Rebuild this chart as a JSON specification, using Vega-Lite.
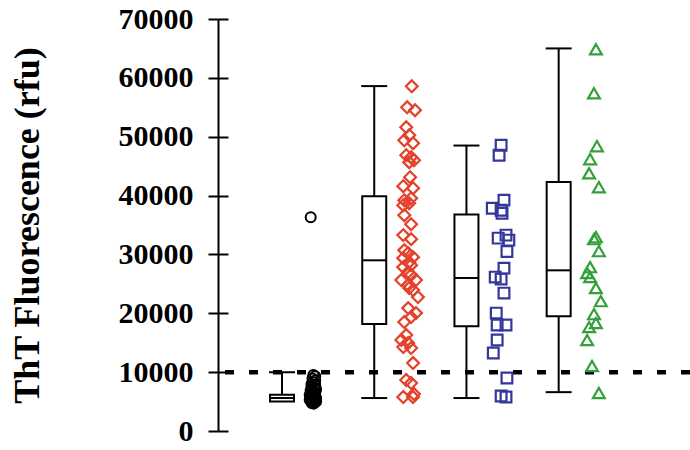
{
  "$schema": "https://vega.github.io/schema/vega-lite/v6.json",
  "width": 472,
  "height": 412,
  "autosize": {"type": "none"},
  "padding": {"left": 218, "top": 19, "right": 0, "bottom": 19},
  "background": "white",
  "config": {"view": {"stroke": null}},
  "datasets": {
    "boxes": [
      {"x": 1, "lower": 5000, "q1": 5000, "median": 5600, "q3": 6150, "upper": 10000},
      {"x": 2, "lower": 5600, "q1": 18200, "median": 29000, "q3": 39900, "upper": 58600},
      {"x": 3, "lower": 5600, "q1": 17800, "median": 26000, "q3": 36800, "upper": 48500},
      {"x": 4, "lower": 6600, "q1": 19500, "median": 27300, "q3": 42300, "upper": 65000}
    ],
    "points": [
      {"grp": "A", "x": 1.311, "fluor": 36330},
      {"grp": "A", "x": 1.34, "fluor": 9500},
      {"grp": "A", "x": 1.36, "fluor": 9300},
      {"grp": "A", "x": 1.33, "fluor": 8900},
      {"grp": "A", "x": 1.36, "fluor": 8600},
      {"grp": "A", "x": 1.34, "fluor": 8300},
      {"grp": "A", "x": 1.32, "fluor": 8000},
      {"grp": "A", "x": 1.36, "fluor": 7800},
      {"grp": "A", "x": 1.32, "fluor": 7500},
      {"grp": "A", "x": 1.35, "fluor": 7300},
      {"grp": "A", "x": 1.37, "fluor": 7100},
      {"grp": "A", "x": 1.31, "fluor": 6900},
      {"grp": "A", "x": 1.34, "fluor": 6700},
      {"grp": "A", "x": 1.36, "fluor": 6500},
      {"grp": "A", "x": 1.32, "fluor": 6300},
      {"grp": "A", "x": 1.30, "fluor": 6100},
      {"grp": "A", "x": 1.36, "fluor": 6000},
      {"grp": "A", "x": 1.34, "fluor": 5800},
      {"grp": "A", "x": 1.31, "fluor": 5700},
      {"grp": "A", "x": 1.37, "fluor": 5600},
      {"grp": "A", "x": 1.33, "fluor": 5500},
      {"grp": "A", "x": 1.35, "fluor": 5400},
      {"grp": "A", "x": 1.30, "fluor": 5300},
      {"grp": "A", "x": 1.34, "fluor": 5200},
      {"grp": "A", "x": 1.31, "fluor": 5100},
      {"grp": "A", "x": 1.37, "fluor": 5000},
      {"grp": "A", "x": 1.32, "fluor": 4950},
      {"grp": "A", "x": 1.355, "fluor": 4900},
      {"grp": "A", "x": 1.325, "fluor": 4700},
      {"grp": "A", "x": 1.345, "fluor": 4650},
      {"grp": "B", "x": 2.407, "fluor": 58570},
      {"grp": "B", "x": 2.357, "fluor": 55000},
      {"grp": "B", "x": 2.442, "fluor": 54500},
      {"grp": "B", "x": 2.347, "fluor": 51600},
      {"grp": "B", "x": 2.379, "fluor": 50250},
      {"grp": "B", "x": 2.326, "fluor": 49400},
      {"grp": "B", "x": 2.421, "fluor": 48900},
      {"grp": "B", "x": 2.347, "fluor": 46860},
      {"grp": "B", "x": 2.4, "fluor": 46520},
      {"grp": "B", "x": 2.431, "fluor": 46000},
      {"grp": "B", "x": 2.379, "fluor": 45670},
      {"grp": "B", "x": 2.389, "fluor": 43120},
      {"grp": "B", "x": 2.315, "fluor": 41600},
      {"grp": "B", "x": 2.421, "fluor": 41260},
      {"grp": "B", "x": 2.4, "fluor": 39560},
      {"grp": "B", "x": 2.326, "fluor": 39220},
      {"grp": "B", "x": 2.379, "fluor": 38710},
      {"grp": "B", "x": 2.315, "fluor": 38370},
      {"grp": "B", "x": 2.326, "fluor": 36670},
      {"grp": "B", "x": 2.4, "fluor": 35140},
      {"grp": "B", "x": 2.315, "fluor": 33280},
      {"grp": "B", "x": 2.4, "fluor": 32600},
      {"grp": "B", "x": 2.326, "fluor": 30730},
      {"grp": "B", "x": 2.368, "fluor": 30220},
      {"grp": "B", "x": 2.421, "fluor": 29540},
      {"grp": "B", "x": 2.315, "fluor": 29370},
      {"grp": "B", "x": 2.379, "fluor": 28690},
      {"grp": "B", "x": 2.4, "fluor": 28180},
      {"grp": "B", "x": 2.315, "fluor": 27840},
      {"grp": "B", "x": 2.368, "fluor": 27000},
      {"grp": "B", "x": 2.4, "fluor": 26490},
      {"grp": "B", "x": 2.294, "fluor": 25640},
      {"grp": "B", "x": 2.453, "fluor": 25640},
      {"grp": "B", "x": 2.368, "fluor": 24790},
      {"grp": "B", "x": 2.379, "fluor": 24280},
      {"grp": "B", "x": 2.421, "fluor": 23940},
      {"grp": "B", "x": 2.474, "fluor": 22750},
      {"grp": "B", "x": 2.368, "fluor": 20880},
      {"grp": "B", "x": 2.453, "fluor": 20030},
      {"grp": "B", "x": 2.4, "fluor": 19350},
      {"grp": "B", "x": 2.326, "fluor": 18510},
      {"grp": "B", "x": 2.347, "fluor": 16300},
      {"grp": "B", "x": 2.294, "fluor": 15450},
      {"grp": "B", "x": 2.368, "fluor": 14940},
      {"grp": "B", "x": 2.315, "fluor": 14260},
      {"grp": "B", "x": 2.4, "fluor": 14090},
      {"grp": "B", "x": 2.421, "fluor": 11540},
      {"grp": "B", "x": 2.347, "fluor": 8660},
      {"grp": "B", "x": 2.4, "fluor": 8150},
      {"grp": "B", "x": 2.431, "fluor": 6280},
      {"grp": "B", "x": 2.315, "fluor": 5770},
      {"grp": "B", "x": 2.421, "fluor": 5770},
      {"grp": "C", "x": 3.376, "fluor": 48560},
      {"grp": "C", "x": 3.354, "fluor": 46860},
      {"grp": "C", "x": 3.407, "fluor": 39220},
      {"grp": "C", "x": 3.28, "fluor": 37860},
      {"grp": "C", "x": 3.376, "fluor": 37520},
      {"grp": "C", "x": 3.386, "fluor": 37010},
      {"grp": "C", "x": 3.429, "fluor": 33280},
      {"grp": "C", "x": 3.344, "fluor": 32770},
      {"grp": "C", "x": 3.46, "fluor": 32430},
      {"grp": "C", "x": 3.439, "fluor": 30500},
      {"grp": "C", "x": 3.407, "fluor": 27670},
      {"grp": "C", "x": 3.312, "fluor": 26150},
      {"grp": "C", "x": 3.376, "fluor": 25810},
      {"grp": "C", "x": 3.407, "fluor": 23430},
      {"grp": "C", "x": 3.323, "fluor": 20030},
      {"grp": "C", "x": 3.333, "fluor": 18000},
      {"grp": "C", "x": 3.429, "fluor": 18000},
      {"grp": "C", "x": 3.333, "fluor": 15450},
      {"grp": "C", "x": 3.291, "fluor": 13240},
      {"grp": "C", "x": 3.439, "fluor": 9000},
      {"grp": "C", "x": 3.376, "fluor": 5940},
      {"grp": "C", "x": 3.429, "fluor": 5770},
      {"grp": "D", "x": 4.404, "fluor": 64860},
      {"grp": "D", "x": 4.383, "fluor": 57390},
      {"grp": "D", "x": 4.415, "fluor": 48390},
      {"grp": "D", "x": 4.341, "fluor": 46180},
      {"grp": "D", "x": 4.33, "fluor": 43800},
      {"grp": "D", "x": 4.436, "fluor": 41430},
      {"grp": "D", "x": 4.404, "fluor": 32940},
      {"grp": "D", "x": 4.383, "fluor": 32600},
      {"grp": "D", "x": 4.436, "fluor": 30560},
      {"grp": "D", "x": 4.341, "fluor": 27840},
      {"grp": "D", "x": 4.309, "fluor": 26830},
      {"grp": "D", "x": 4.341, "fluor": 26150},
      {"grp": "D", "x": 4.404, "fluor": 24280},
      {"grp": "D", "x": 4.457, "fluor": 22070},
      {"grp": "D", "x": 4.383, "fluor": 19860},
      {"grp": "D", "x": 4.404, "fluor": 18340},
      {"grp": "D", "x": 4.33, "fluor": 17660},
      {"grp": "D", "x": 4.309, "fluor": 15450},
      {"grp": "D", "x": 4.362, "fluor": 11040},
      {"grp": "D", "x": 4.436, "fluor": 6450}
    ]
  },
  "resolve": {"scale": {"y": "shared", "x": "shared"}, "axis": {"y": "independent"}},
  "layer": [
    {
      "data": {"name": "boxes"},
      "mark": {"type": "rule", "color": "black", "strokeWidth": 2},
      "encoding": {
        "x": {"field": "x", "type": "quantitative", "scale": {"domain": [0.36, 5.37], "nice": false, "zero": false}, "axis": null},
        "y": {
          "field": "lower", "type": "quantitative",
          "scale": {"domain": [0, 70000], "nice": false, "zero": true},
          "axis": {
            "orient": "left",
            "values": [0, 10000, 20000, 30000, 40000, 50000, 60000, 70000],
            "format": "d",
            "grid": false,
            "domain": true, "domainColor": "black", "domainWidth": 2,
            "ticks": true, "tickColor": "black", "tickWidth": 2, "tickSize": 10,
            "labelFont": "Liberation Serif", "labelFontWeight": "bold", "labelFontSize": 30, "labelColor": "black", "labelPadding": 15,
            "title": "ThT Fluorescence (rfu)",
            "titleFont": "Liberation Serif", "titleFontWeight": "bold", "titleFontSize": 36, "titleColor": "black", "titlePadding": 72
          }
        },
        "y2": {"field": "upper"}
      }
    },
    {
      "data": {"name": "boxes"},
      "mark": {"type": "bar", "fill": "white", "stroke": "black", "strokeWidth": 2, "size": 24},
      "encoding": {
        "x": {"field": "x", "type": "quantitative"},
        "y": {"field": "q1", "type": "quantitative", "axis": null},
        "y2": {"field": "q3"}
      }
    },
    {
      "data": {"name": "boxes"},
      "mark": {"type": "tick", "orient": "horizontal", "color": "black", "size": 24, "thickness": 2, "opacity": 1},
      "encoding": {
        "x": {"field": "x", "type": "quantitative"},
        "y": {
          "field": "median", "type": "quantitative",
          "axis": {
            "orient": "left", "offset": -10,
            "values": [0, 10000, 20000, 30000, 40000, 50000, 60000, 70000],
            "grid": false, "domain": false, "labels": false, "title": null,
            "ticks": true, "tickColor": "black", "tickWidth": 2, "tickSize": 10
          }
        }
      }
    },
    {
      "data": {"name": "boxes"},
      "mark": {"type": "tick", "orient": "horizontal", "color": "black", "size": 26, "thickness": 2, "opacity": 1},
      "encoding": {
        "x": {"field": "x", "type": "quantitative"},
        "y": {"field": "upper", "type": "quantitative", "axis": null}
      }
    },
    {
      "data": {"name": "boxes"},
      "transform": [{"filter": "datum.lower < datum.q1"}],
      "mark": {"type": "tick", "orient": "horizontal", "color": "black", "size": 26, "thickness": 2, "opacity": 1},
      "encoding": {
        "x": {"field": "x", "type": "quantitative"},
        "y": {"field": "lower", "type": "quantitative", "axis": null}
      }
    },
    {
      "data": {"values": [{"threshold": 10000}]},
      "mark": {"type": "rule", "color": "black", "strokeWidth": 4.5, "strokeDash": [9, 15]},
      "encoding": {
        "y": {"field": "threshold", "type": "quantitative", "axis": null}
      }
    },
    {
      "data": {"name": "points"},
      "transform": [{"filter": {"field": "grp", "equal": "A"}}],
      "mark": {"type": "point", "shape": "circle", "filled": false, "color": "black", "strokeWidth": 2, "size": 100, "opacity": 1},
      "encoding": {
        "x": {"field": "x", "type": "quantitative"},
        "y": {"field": "fluor", "type": "quantitative", "axis": null}
      }
    },
    {
      "data": {"name": "points"},
      "transform": [{"filter": {"field": "grp", "equal": "B"}}],
      "mark": {"type": "point", "shape": "diamond", "filled": false, "color": "#E4412B", "strokeWidth": 2.2, "size": 140, "opacity": 1},
      "encoding": {
        "x": {"field": "x", "type": "quantitative"},
        "y": {"field": "fluor", "type": "quantitative", "axis": null}
      }
    },
    {
      "data": {"name": "points"},
      "transform": [{"filter": {"field": "grp", "equal": "C"}}],
      "mark": {"type": "point", "shape": "square", "filled": false, "color": "#34369A", "strokeWidth": 2.2, "size": 115, "opacity": 1},
      "encoding": {
        "x": {"field": "x", "type": "quantitative"},
        "y": {"field": "fluor", "type": "quantitative", "axis": null}
      }
    },
    {
      "data": {"name": "points"},
      "transform": [{"filter": {"field": "grp", "equal": "D"}}],
      "mark": {"type": "point", "shape": "triangle-up", "filled": false, "color": "#33A03A", "strokeWidth": 2.2, "size": 140, "opacity": 1},
      "encoding": {
        "x": {"field": "x", "type": "quantitative"},
        "y": {"field": "fluor", "type": "quantitative", "axis": null}
      }
    }
  ]
}
